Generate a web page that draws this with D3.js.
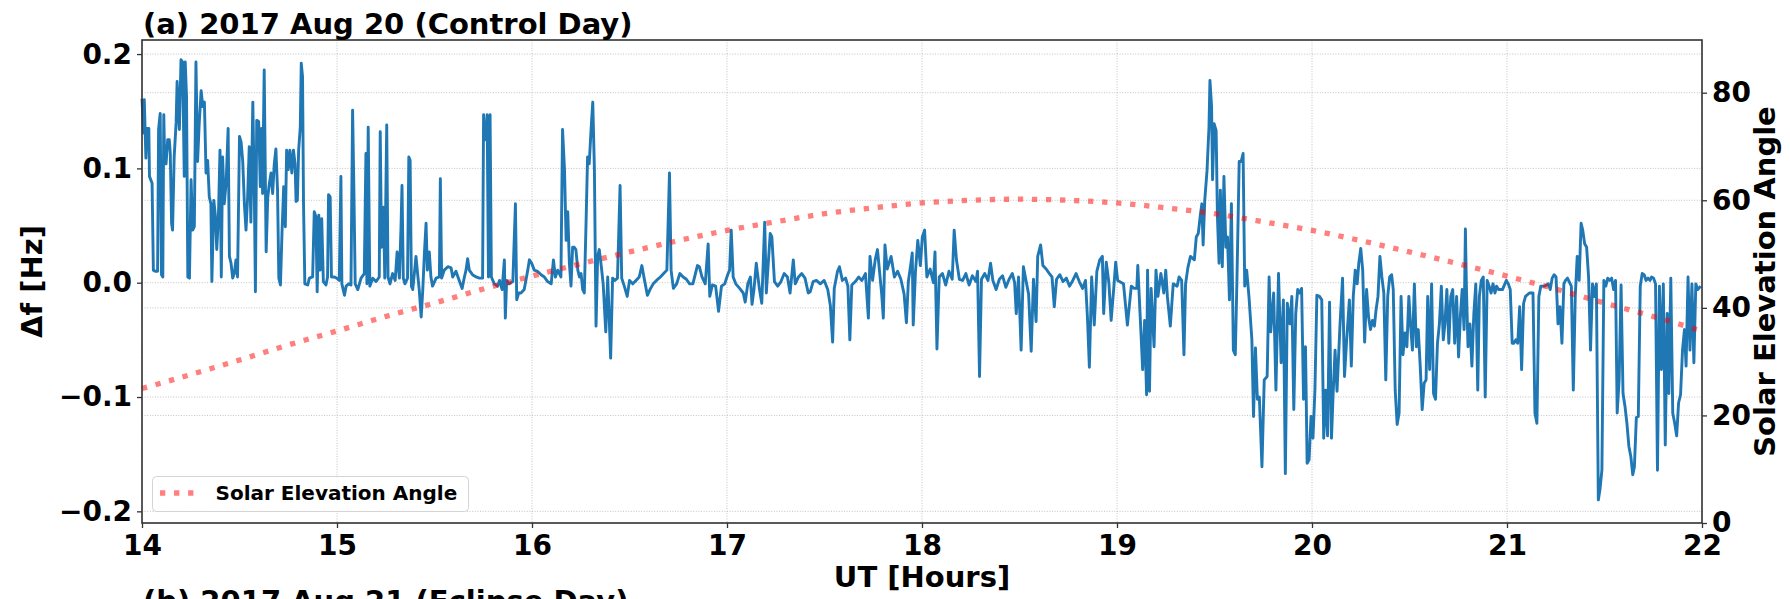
<!DOCTYPE html>
<meta charset="utf-8">
<style>
body { margin: 0; background: #fff; }
text { font-family: 'DejaVu Sans', sans-serif; font-weight: bold; fill: #000; }
.grid line { stroke: #c2c2c2; stroke-width: 1; stroke-dasharray: 1,1.6; }
.axis line { stroke: #333; stroke-width: 1.3; }
.axis text { font-size: 28px; }
</style>
<body>
<div id="chart"></div>
<script src="https://d3js.org/d3.v7.min.js"></script>
<script>

// x ticks (UT hours) and the two y axes
var hourTicks = [14, 15, 16, 17, 18, 19, 20, 21, 22];
var dfTicks = [-0.2, -0.1, 0.0, 0.1, 0.2];
var elevTicks = [0, 20, 40, 60, 80];

// solar elevation angle [deg], every quarter hour from 14:00 UT
var elevHours = [14, 14.25, 14.5, 14.75, 15, 15.25, 15.5, 15.75, 16, 16.25, 16.5, 16.75,
    17, 17.25, 17.5, 17.75, 18, 18.25, 18.5, 18.75, 19, 19.25, 19.5, 19.75,
    20, 20.25, 20.5, 20.75, 21, 21.25, 21.5, 21.75, 22];
var elevDeg = [25.0, 27.6, 30.3, 33.1, 35.7, 38.4, 40.9, 43.5, 45.9, 48.2, 50.4, 52.5,
    54.4, 56.0, 57.5, 58.6, 59.5, 60.0, 60.2, 60.0, 59.5, 58.6, 57.5, 56.0,
    54.4, 52.5, 50.4, 48.2, 45.9, 43.5, 40.9, 38.4, 35.7];

// doppler shift samples: [minutes after 14:00 UT, delta f in Hz]
var dfEarly = [
    [0.0, 0.161], [0.5, 0.131], [0.7, 0.160], [1.2, 0.109], [1.5, 0.135], [2.1, 0.135], [2.3, 0.093],
    [3.1, 0.087], [3.5, 0.011], [4.1, 0.010], [4.8, 0.010], [5.1, 0.134], [5.6, 0.148], [6.0, 0.007],
    [6.4, 0.005], [6.7, 0.147], [7.0, 0.104], [7.4, 0.104], [7.9, 0.125], [8.4, 0.125], [8.7, 0.113],
    [9.1, 0.052], [9.4, 0.046], [9.9, 0.110], [10.5, 0.140], [10.8, 0.176], [11.5, 0.134], [12.0, 0.195],
    [12.5, 0.193], [13.0, 0.093], [13.3, 0.193], [13.7, 0.163], [14.1, 0.005], [14.6, 0.004], [15.1, 0.090],
    [15.6, 0.046], [16.1, 0.049], [16.6, 0.193], [17.1, 0.106], [17.6, 0.139], [18.2, 0.168], [18.7, 0.154],
    [19.2, 0.158], [19.7, 0.096], [20.2, 0.107], [20.7, 0.075], [21.2, 0.069], [21.5, 0.001], [22.1, 0.072],
    [22.6, 0.058], [23.0, 0.029], [23.5, 0.056], [24.0, 0.116], [24.4, 0.005], [24.8, 0.110], [25.3, 0.069],
    [25.9, 0.088], [26.5, 0.135], [26.9, 0.023], [27.4, 0.017], [27.9, 0.004], [28.4, 0.008], [28.9, 0.020],
    [29.4, 0.005], [30.0, 0.128], [30.5, 0.123], [31.0, 0.106], [31.5, 0.069], [32.0, 0.046], [32.5, 0.075],
    [33.0, 0.119], [33.5, 0.053], [34.1, 0.158], [34.6, 0.069], [34.9, -0.008], [35.3, 0.142], [35.9, 0.141],
    [36.4, 0.084], [36.8, 0.135], [37.1, 0.078], [37.6, 0.186], [38.2, 0.027], [38.7, 0.075], [39.2, 0.087],
    [39.7, 0.096], [40.2, 0.078], [40.7, 0.104], [41.2, 0.117], [41.7, 0.081], [42.1, 0.004], [42.6, -0.002],
    [43.1, 0.046], [43.6, 0.084], [44.1, 0.049], [44.5, 0.116], [45.0, 0.099], [45.5, 0.116], [46.1, 0.096],
    [46.6, 0.116], [47.1, 0.104], [47.4, 0.071], [47.8, 0.072], [48.2, 0.116], [48.7, 0.136], [49.0, 0.192],
    [49.4, 0.180], [49.7, 0.069], [50.1, -0.001], [51.0, -0.002], [51.5, 0.004], [52.5, 0.005], [53.0, 0.062],
    [53.5, 0.058], [53.9, -0.008], [54.4, 0.059], [54.8, 0.011], [55.3, 0.056], [55.8, 0.001], [56.6, -0.002],
    [57.1, 0.005], [57.4, 0.077], [57.9, 0.075], [58.3, 0.005], [59.2, 0.005], [59.9, 0.004], [60.7, 0.002],
    [61.2, 0.093], [61.5, -0.001], [62.3, -0.011], [62.8, -0.003], [63.6, -0.001], [64.3, -0.002], [64.8, 0.151],
    [65.2, 0.081], [65.6, -0.001], [66.4, -0.006], [67.4, 0.004], [68.4, 0.008], [68.9, 0.113], [69.2, -0.001],
    [69.6, 0.136], [70.1, -0.003], [71.0, 0.004], [72.0, 0.001], [73.0, 0.005], [73.3, 0.132], [73.7, 0.031],
    [74.3, 0.066], [74.7, 0.004], [75.3, 0.138], [75.7, 0.005], [76.3, -0.001], [77.1, 0.008], [77.9, 0.002],
    [78.5, 0.027], [79.2, 0.004], [79.7, 0.049], [80.0, 0.085], [80.4, 0.004], [80.9, -0.001], [81.7, 0.004],
    [82.1, 0.110], [82.5, 0.107], [82.9, -0.003], [83.3, -0.006], [83.8, 0.008], [84.3, 0.023], [84.8, 0.008],
    [85.3, -0.006], [85.9, -0.030], [86.4, -0.006], [86.9, 0.026], [87.4, 0.052], [87.8, 0.011], [88.4, 0.027],
    [88.9, 0.005], [89.4, -0.003], [90.5, 0.004], [91.5, 0.005], [91.8, 0.091], [92.2, 0.004], [93.0, 0.011],
    [94.1, 0.014], [95.1, 0.013], [95.6, 0.005], [96.6, 0.010], [97.6, 0.002], [98.5, -0.005], [99.2, 0.005],
    [99.7, 0.011], [100.2, 0.021], [100.7, 0.011], [101.7, 0.007], [102.8, 0.005], [103.8, 0.004], [104.8, 0.004],
    [105.1, 0.147], [105.5, 0.125], [105.9, 0.128], [106.2, 0.147], [106.6, 0.005], [107.1, 0.147], [107.5, 0.005],
    [108.4, -0.001], [109.4, -0.003], [110.0, 0.002], [110.8, -0.006], [111.5, 0.020], [111.8, -0.031], [112.2, 0.002],
    [113.0, -0.001], [114.1, 0.001], [114.9, 0.069], [115.3, -0.015], [115.9, -0.009], [116.6, -0.009], [117.6, -0.006],
    [118.7, 0.011], [119.2, 0.020], [119.9, 0.017], [120.7, 0.011], [121.7, 0.010], [122.8, 0.007], [123.8, 0.005],
    [124.8, 0.001], [125.9, -0.001], [126.6, 0.020], [127.2, 0.005], [127.9, 0.011], [128.9, 0.005], [129.4, 0.134],
    [130.0, 0.099], [130.5, 0.037], [131.0, 0.062], [131.5, 0.017], [132.0, -0.003], [132.5, 0.031], [133.0, 0.031],
    [133.5, 0.029], [134.1, 0.011], [134.6, 0.005], [135.1, 0.008], [135.6, -0.006], [136.1, -0.009], [136.6, 0.049],
    [137.1, 0.110], [137.6, 0.104], [138.2, 0.135], [138.7, 0.158], [139.2, 0.099], [139.7, -0.038], [140.2, 0.023],
    [140.7, 0.029]
];

var dfMid = [
    [141.3, 0.015], [141.9, -0.001], [142.7, -0.043], [143.3, 0.005], [144.2, -0.066], [144.8, 0.004], [145.5, 0.002],
    [146.3, 0.004], [147.1, 0.085], [147.6, 0.004], [148.4, -0.003], [149.3, -0.012], [150.0, 0.002], [151.0, -0.001],
    [152.0, 0.002], [153.0, 0.005], [153.8, 0.015], [154.5, 0.004], [155.5, -0.011], [156.3, -0.006], [157.3, -0.001],
    [158.3, 0.002], [159.5, 0.005], [160.5, 0.008], [161.5, 0.011], [162.3, 0.096], [162.8, 0.011], [163.5, -0.005],
    [164.5, -0.001], [165.5, 0.008], [166.5, 0.005], [167.5, 0.003], [168.5, -0.001], [169.5, -0.001], [170.9, 0.015],
    [171.5, 0.014], [172.3, 0.005], [173.3, -0.001], [174.2, 0.034], [174.7, -0.012], [175.5, -0.002], [176.5, -0.003],
    [177.4, -0.025], [178.3, -0.003], [179.3, -0.001], [180.2, 0.007], [180.8, 0.011], [181.3, 0.046], [181.9, 0.005],
    [182.7, -0.001], [183.9, -0.005], [185.0, -0.009], [185.6, -0.017], [186.4, -0.001], [187.2, 0.005], [187.7, -0.019],
    [188.3, -0.006], [189.0, 0.017], [190.0, -0.006], [190.7, -0.018], [191.6, 0.053], [192.1, -0.009], [192.7, 0.017],
    [193.3, 0.043], [193.8, 0.040], [194.6, 0.001], [195.6, -0.003], [196.6, 0.001], [197.6, 0.008], [198.6, 0.005],
    [199.4, -0.009], [200.4, 0.020], [201.0, -0.001], [202.0, 0.005], [203.0, 0.008], [204.0, 0.004], [205.0, -0.009],
    [205.6, -0.008], [206.5, 0.001], [207.5, 0.002], [208.7, -0.001], [209.9, 0.002], [211.0, -0.006], [211.8, -0.020],
    [212.5, -0.052], [213.0, -0.005], [214.0, 0.010], [214.6, 0.014], [215.5, 0.002], [216.5, 0.004], [217.2, -0.003],
    [217.8, -0.050], [218.4, -0.002], [219.5, 0.001], [220.5, 0.005], [221.5, 0.002], [222.6, 0.008], [223.5, -0.031],
    [224.0, 0.023], [224.8, 0.002], [225.6, 0.020], [226.3, 0.029], [227.0, 0.008], [227.6, -0.010], [228.1, -0.031],
    [228.6, 0.033], [229.3, 0.012], [230.5, 0.023], [231.5, 0.005], [232.5, 0.010], [233.5, 0.003], [234.5, -0.010],
    [235.2, -0.035], [235.8, 0.001], [236.5, 0.015], [237.0, 0.026], [237.3, -0.037], [238.0, 0.010], [238.7, 0.037],
    [239.5, 0.015], [240.1, 0.040], [240.8, 0.046], [241.5, 0.005], [242.5, 0.012], [243.5, 0.000], [244.0, 0.027],
    [244.6, -0.058], [245.3, 0.005], [246.3, 0.008], [247.3, -0.002], [248.3, 0.010], [249.3, 0.003], [249.9, 0.046],
    [250.6, 0.020], [251.5, 0.003], [252.5, 0.002], [253.5, 0.008], [254.5, -0.002], [255.5, 0.006], [256.6, 0.001],
    [257.1, 0.010], [257.7, -0.082], [258.3, 0.003], [259.3, 0.008], [260.3, 0.002], [261.1, 0.017], [261.8, 0.002],
    [262.8, -0.006], [263.8, 0.003], [264.8, 0.006], [265.8, -0.004], [266.8, 0.003], [267.8, 0.008], [268.5, 0.000],
    [269.0, -0.027], [269.7, 0.005], [270.5, -0.059], [271.2, 0.014], [272.0, 0.002], [272.8, -0.010], [273.6, -0.060],
    [274.3, 0.003], [275.1, -0.034], [275.6, 0.023], [276.5, 0.033], [277.2, 0.015], [278.2, 0.012], [279.2, 0.008],
    [280.0, 0.005], [280.7, -0.021], [281.4, 0.003], [282.4, 0.007], [283.4, 0.001], [284.4, 0.004], [285.4, -0.003],
    [286.4, 0.002], [287.4, 0.008], [288.4, 0.001], [289.4, -0.005], [290.3, 0.002], [290.9, -0.030], [291.5, -0.074],
    [292.2, 0.005], [293.0, -0.037], [293.8, 0.010], [294.7, 0.020]
];

var dfLate = [
    [295.5, 0.023], [295.9, -0.027], [296.7, 0.018], [297.5, 0.000], [298.2, -0.033], [299.0, -0.005], [299.6, 0.018],
    [300.2, 0.002], [302.0, -0.001], [303.2, -0.037], [304.4, -0.003], [305.3, -0.005], [306.1, -0.005], [306.4, 0.015],
    [306.7, -0.003], [307.9, -0.076], [308.5, -0.033], [309.1, -0.098], [309.4, 0.011], [310.0, -0.095], [310.5, -0.005],
    [311.4, -0.056], [312.0, 0.011], [312.6, -0.012], [313.5, 0.008], [314.4, -0.009], [315.0, 0.011], [315.5, -0.012],
    [316.4, -0.038], [317.3, -0.001], [318.5, -0.003], [319.1, 0.005], [319.9, 0.002], [320.6, -0.063], [321.1, -0.001],
    [321.8, 0.013], [322.6, 0.023], [323.8, 0.020], [324.4, 0.040], [325.0, 0.043], [325.6, 0.058], [326.1, 0.069],
    [326.5, 0.033], [327.0, 0.072], [327.7, 0.098], [328.3, 0.136], [328.6, 0.177], [329.1, 0.154], [329.4, 0.090],
    [329.9, 0.139], [330.5, 0.133], [330.9, 0.058], [331.4, 0.017], [331.8, 0.081], [332.4, 0.014], [332.9, 0.093],
    [333.5, 0.031], [334.0, 0.040], [334.6, -0.015], [335.2, 0.069], [335.8, -0.059], [336.4, -0.063], [336.9, 0.002],
    [337.6, 0.106], [338.2, 0.106], [338.8, 0.113], [339.3, -0.003], [339.9, 0.011], [340.6, -0.012], [341.5, -0.050],
    [342.0, -0.117], [342.6, -0.057], [343.2, -0.102], [343.8, -0.100], [344.6, -0.161], [345.3, -0.085], [346.2, -0.082],
    [346.8, 0.005], [347.3, -0.043], [348.2, -0.009], [348.9, -0.094], [349.7, 0.008], [350.5, -0.070], [351.2, -0.015],
    [351.8, -0.167], [352.4, -0.018], [353.2, -0.036], [353.8, -0.012], [354.4, -0.111], [355.0, -0.027], [355.6, -0.006],
    [356.2, -0.009], [356.8, -0.005], [357.4, -0.102], [358.0, -0.056], [358.5, -0.158], [359.1, -0.155], [359.7, -0.117],
    [360.3, -0.136], [360.9, -0.094], [361.5, -0.011], [362.3, -0.012], [363.0, -0.015], [363.6, -0.136], [364.2, -0.094],
    [364.8, -0.134], [365.4, -0.017], [366.0, -0.136], [366.5, -0.097], [367.1, -0.059], [367.7, -0.095], [368.6, -0.038],
    [369.4, 0.004], [370.0, -0.082], [370.6, -0.053], [371.5, -0.015], [372.1, -0.073], [372.7, -0.012], [373.3, 0.011],
    [373.9, -0.001], [374.4, 0.017], [375.0, 0.030], [375.6, 0.011], [376.2, -0.052], [376.8, -0.006], [377.4, -0.030],
    [378.0, -0.041], [378.6, -0.033], [379.2, -0.038], [379.7, -0.024], [380.3, -0.012], [380.9, 0.023], [381.5, 0.005],
    [382.1, -0.009], [382.7, -0.085], [383.3, -0.012], [383.9, 0.005], [384.5, 0.007], [385.0, -0.006], [385.6, -0.094],
    [386.2, -0.124], [386.8, -0.114], [387.4, -0.012], [388.0, -0.063], [388.6, -0.044], [389.2, -0.056], [389.8, -0.012],
    [390.3, -0.036], [390.9, -0.059], [391.5, -0.001], [392.1, -0.056], [392.7, -0.041], [393.3, -0.073], [393.9, -0.111],
    [394.5, -0.088], [395.1, -0.085], [395.6, -0.012], [396.2, -0.076], [396.8, -0.001], [397.4, -0.097], [398.0, -0.102],
    [398.6, -0.053], [399.2, -0.036], [399.8, -0.003], [400.4, -0.050], [400.9, -0.036], [401.5, -0.006], [402.1, -0.053],
    [402.7, -0.012], [403.3, -0.006], [403.9, -0.053], [404.5, -0.012], [405.1, -0.065], [405.7, -0.027], [406.2, -0.006],
    [406.8, -0.041], [407.2, 0.047], [407.5, -0.003], [408.0, -0.056], [408.6, -0.036], [409.2, -0.073], [409.8, -0.027],
    [410.4, -0.001], [411.0, -0.094], [411.5, -0.012], [412.1, 0.002], [412.7, 0.005], [413.3, -0.100], [413.9, 0.002],
    [414.5, -0.003], [415.1, -0.009], [415.7, -0.001], [416.3, -0.009], [416.8, -0.003], [417.4, -0.006], [418.6, -0.006],
    [419.8, 0.002], [420.4, -0.001], [421.0, -0.006], [421.6, -0.053], [422.1, -0.053], [422.7, -0.050], [423.3, -0.053],
    [423.9, -0.021], [424.5, -0.076], [425.1, -0.018], [425.7, -0.012], [426.9, -0.009], [428.0, -0.009], [428.6, -0.114],
    [429.2, -0.123], [429.8, -0.012], [430.4, -0.003], [431.6, -0.003], [432.7, -0.001], [433.3, -0.006], [433.9, 0.004],
    [434.5, 0.007], [435.1, 0.005], [435.7, -0.036], [436.3, -0.021], [436.9, -0.053], [437.5, -0.001], [438.0, 0.002],
    [438.6, 0.004], [439.8, -0.003], [440.4, -0.094], [441.0, -0.012], [441.6, 0.023], [442.2, 0.002], [442.8, 0.052],
    [443.3, 0.046], [443.9, 0.034], [444.5, 0.031], [445.1, 0.005], [445.7, -0.059], [446.3, -0.001], [446.9, -0.012],
    [447.5, -0.001], [448.1, -0.190], [448.6, -0.181], [449.2, -0.164], [449.8, 0.002], [450.4, -0.003], [451.0, 0.004],
    [451.6, 0.002], [452.2, 0.004], [452.8, -0.006], [453.4, 0.002], [453.9, -0.114], [454.5, -0.085], [455.1, -0.002],
    [455.7, -0.097], [456.3, -0.108], [456.9, -0.123], [457.5, -0.143], [458.1, -0.152], [458.7, -0.168], [459.2, -0.161],
    [459.8, -0.118], [460.4, -0.117], [461.0, -0.003], [461.6, 0.008], [462.2, 0.007], [462.8, 0.002], [463.4, 0.004],
    [464.0, 0.002], [464.5, 0.005], [465.1, 0.004], [465.7, -0.001], [466.3, -0.164], [466.9, -0.003], [467.5, -0.076],
    [468.1, -0.001], [468.7, -0.142], [469.3, -0.027], [469.8, -0.097], [470.4, 0.004], [471.0, -0.114], [471.6, -0.123],
    [472.2, -0.134], [472.8, -0.105], [473.4, -0.098], [474.0, -0.059], [474.6, -0.041], [475.1, -0.073], [475.7, 0.005],
    [476.3, -0.059], [476.9, -0.001], [477.5, -0.070], [478.1, -0.001], [478.7, -0.006], [479.6, -0.003]
];

var width = 1790,
    height = 599,
    plot = {left: 142, right: 1702, top: 40, bottom: 523};

var x = d3.scaleLinear().domain([14, 22]).range([plot.left, plot.right]);
var y = d3.scaleLinear().domain([-0.2102, 0.2123]).range([plot.bottom, plot.top]);
var y2 = d3.scaleLinear().domain([0, 89.8]).range([plot.bottom, plot.top]);

var svg = d3.select("#chart").append("svg")
    .attr("width", width)
    .attr("height", height);

// grid (both y axes draw their own horizontal lines)
var grid = svg.append("g").attr("class", "grid");
grid.selectAll("line.v").data(hourTicks).enter().append("line")
    .attr("x1", d => x(d)).attr("x2", d => x(d))
    .attr("y1", plot.top).attr("y2", plot.bottom);
grid.selectAll("line.h1").data(dfTicks).enter().append("line")
    .attr("x1", plot.left).attr("x2", plot.right)
    .attr("y1", d => y(d)).attr("y2", d => y(d));
grid.selectAll("line.h2").data(elevTicks).enter().append("line")
    .attr("x1", plot.left).attr("x2", plot.right)
    .attr("y1", d => y2(d)).attr("y2", d => y2(d));

// doppler line
var samples = dfEarly.concat(dfMid, dfLate);
var dfLine = d3.line()
    .x(d => x(14 + d[0] / 60))
    .y(d => y(d[1]));

svg.append("path")
    .datum(samples)
    .attr("d", dfLine)
    .attr("fill", "none")
    .attr("stroke", "#1f77b4")
    .attr("stroke-width", 2.9)
    .attr("stroke-linejoin", "round");

// solar elevation (twin axis, drawn on top)
var elevLine = d3.line()
    .curve(d3.curveMonotoneX)
    .x((d, i) => x(elevHours[i]))
    .y(d => y2(d));

svg.append("path")
    .datum(elevDeg)
    .attr("d", elevLine)
    .attr("fill", "none")
    .attr("stroke", "red")
    .attr("stroke-opacity", 0.5)
    .attr("stroke-width", 5.3)
    .attr("stroke-dasharray", "5.3,8.75");

// axes
var fmt = d => d < 0 ? "\u2212" + d3.format(".1f")(-d) : d3.format(".1f")(d);

var gx = svg.append("g").attr("class", "axis")
    .attr("transform", "translate(0," + plot.bottom + ")")
    .call(d3.axisBottom(x).tickValues(hourTicks).tickFormat(d3.format("d"))
        .tickSize(5).tickSizeOuter(0).tickPadding(7));
var gy = svg.append("g").attr("class", "axis")
    .attr("transform", "translate(" + plot.left + ",0)")
    .call(d3.axisLeft(y).tickValues(dfTicks).tickFormat(fmt)
        .tickSize(5).tickSizeOuter(0).tickPadding(5));
var gy2 = svg.append("g").attr("class", "axis")
    .attr("transform", "translate(" + plot.right + ",0)")
    .call(d3.axisRight(y2).tickValues(elevTicks).tickFormat(d3.format("d"))
        .tickSize(5).tickSizeOuter(0).tickPadding(5));
svg.selectAll(".axis .domain").remove();

// frame
svg.append("rect")
    .attr("x", plot.left).attr("y", plot.top)
    .attr("width", plot.right - plot.left)
    .attr("height", plot.bottom - plot.top)
    .attr("fill", "none")
    .attr("stroke", "#333")
    .attr("stroke-width", 1.6);

// legend
var legend = svg.append("g");
legend.append("rect")
    .attr("x", 152.5).attr("y", 476.5)
    .attr("width", 316).attr("height", 35)
    .attr("rx", 4)
    .attr("fill", "#fff").attr("fill-opacity", 0.8)
    .attr("stroke", "#d4d4d4").attr("stroke-width", 1);
legend.append("line")
    .attr("x1", 160).attr("x2", 197)
    .attr("y1", 493).attr("y2", 493)
    .attr("stroke", "red").attr("stroke-opacity", 0.5)
    .attr("stroke-width", 5.3)
    .attr("stroke-dasharray", "5.3,8.75");
legend.append("text")
    .attr("x", 215.5).attr("y", 500)
    .style("font-size", "20px")
    .text("Solar Elevation Angle");

// labels and titles
svg.append("text")
    .attr("x", 143).attr("y", 33.5)
    .style("font-size", "29px")
    .text("(a) 2017 Aug 20 (Control Day)");

svg.append("text")
    .attr("x", 143).attr("y", 611)
    .style("font-size", "29px")
    .text("(b) 2017 Aug 21 (Eclipse Day)");

svg.append("text")
    .attr("x", (plot.left + plot.right) / 2).attr("y", 587)
    .attr("text-anchor", "middle")
    .style("font-size", "29px")
    .text("UT [Hours]");

svg.append("text")
    .attr("transform", "translate(41.5," + (plot.top + plot.bottom) / 2 + ") rotate(-90)")
    .attr("text-anchor", "middle")
    .style("font-size", "29px")
    .text("\u0394f [Hz]");

svg.append("text")
    .attr("transform", "translate(1775," + (plot.top + plot.bottom) / 2 + ") rotate(-90)")
    .attr("text-anchor", "middle")
    .style("font-size", "29px")
    .text("Solar Elevation Angle");

</script>
